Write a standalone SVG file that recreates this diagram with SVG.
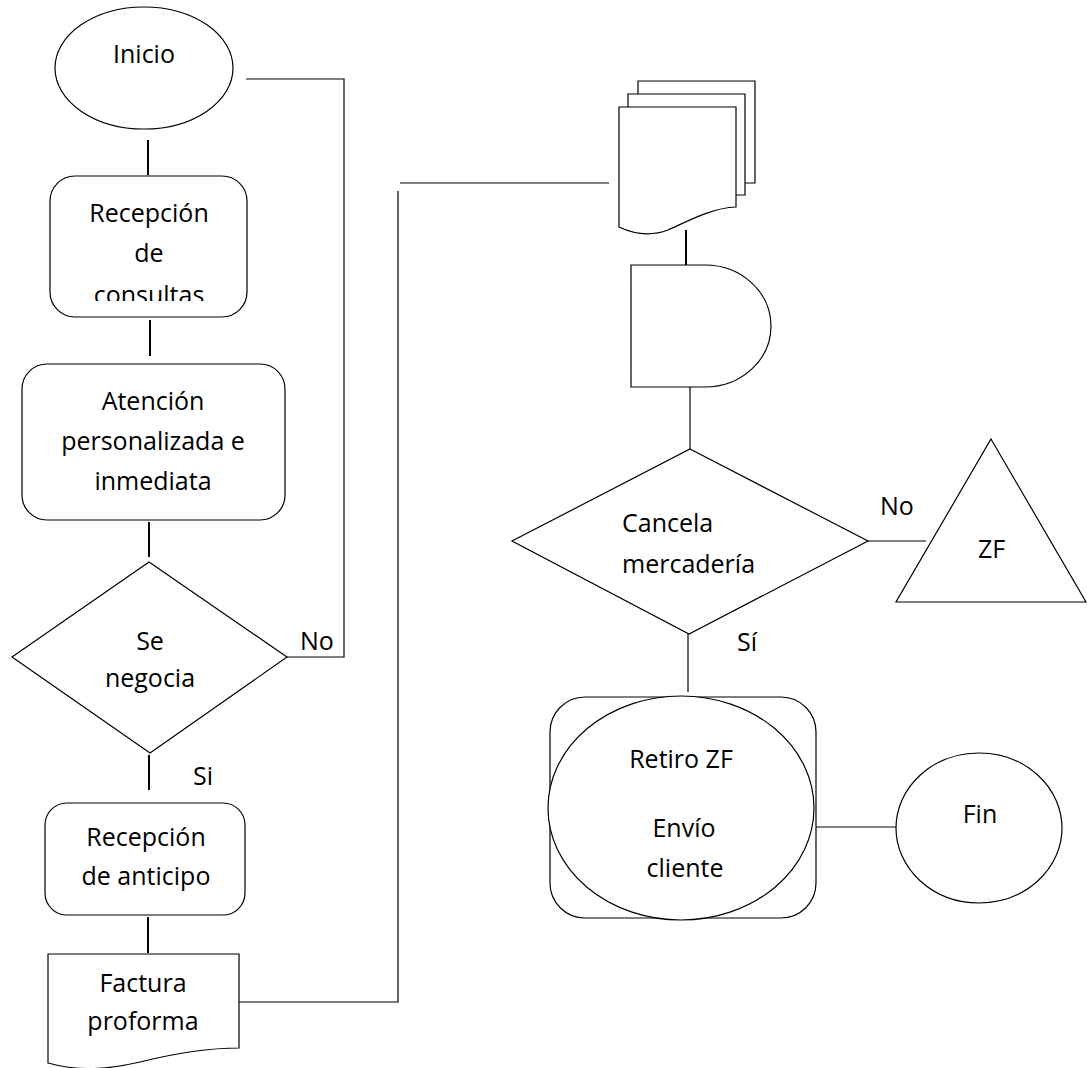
<svg xmlns="http://www.w3.org/2000/svg" width="1087" height="1068" viewBox="0 0 1087 1068">
<style>
.s{fill:#fff;stroke:#000;stroke-width:1.2}
.c{fill:none;stroke:#000;stroke-width:1.2}
.v{fill:none;stroke:#000;stroke-width:2}
text{font-family:"Open Sans","Liberation Sans",sans-serif;font-size:25px;fill:#000}
.m{text-anchor:middle}
</style>
<defs>
<clipPath id="clipCons"><rect x="50" y="176" width="197" height="125"/></clipPath>
</defs>
<rect width="1087" height="1068" fill="#fff"/>
<g id="connectors">
<line class="v" x1="148" y1="140" x2="148" y2="175"/>
<line class="v" x1="150" y1="320" x2="150" y2="356"/>
<line class="v" x1="149" y1="522" x2="149" y2="557"/>
<polyline class="c" points="287,657 344,657 344,79 246,79"/>
<line class="v" x1="149" y1="755" x2="149" y2="790"/>
<line class="v" x1="148" y1="917" x2="148" y2="953"/>
<polyline class="c" points="239,1002 398,1002 398,191"/>
<line class="c" x1="400" y1="183" x2="609" y2="183"/>
<line class="v" x1="686" y1="230" x2="686" y2="265"/>
<line class="c" x1="690" y1="387" x2="690" y2="449"/>
<line class="c" x1="868" y1="541" x2="926" y2="541"/>
<line class="c" x1="688" y1="634" x2="688" y2="692"/>
<line class="c" x1="814" y1="827" x2="896" y2="827"/>
<text x="300" y="650">No</text>
<text x="193" y="785">Si</text>
<text x="880" y="515">No</text>
<text x="737" y="651">Sí</text>
</g>
<g id="inicio">
<ellipse class="s" cx="144" cy="68" rx="89" ry="61"/>
<text class="m" x="144" y="63">Inicio</text>
</g>
<g id="recepcion-consultas">
<rect class="s" x="50" y="176" width="197" height="141" rx="25"/>
<text class="m" x="149" y="222">Recepción</text>
<text class="m" x="149" y="262">de</text>
<text class="m" x="149" y="304" clip-path="url(#clipCons)">consultas</text>
</g>
<g id="atencion">
<rect class="s" x="22" y="364" width="263" height="156" rx="25"/>
<text class="m" x="153" y="410">Atención</text>
<text class="m" x="153" y="450">personalizada e</text>
<text class="m" x="153" y="490">inmediata</text>
</g>
<g id="se-negocia">
<polygon class="s" points="149,562 287,657 150,753 12,657"/>
<text class="m" x="150" y="650">Se</text>
<text class="m" x="150" y="687">negocia</text>
</g>
<g id="recepcion-anticipo">
<rect class="s" x="45" y="803" width="200" height="112" rx="22"/>
<text class="m" x="146" y="846">Recepción</text>
<text class="m" x="146" y="885">de anticipo</text>
</g>
<g id="factura-proforma">
<path class="s" d="M48,954 H239 V1048 C210,1048 180,1052 140,1062 C110,1069 80,1072 48,1063 Z"/>
<text class="m" x="143" y="992">Factura</text>
<text class="m" x="143" y="1030">proforma</text>
</g>
<g id="multidocumento">
<path class="s" d="M638,94 V81 H755 V183 H745"/>
<path class="s" d="M628,107 V94 H745 V195 H736"/>
<path class="s" d="M619,107 H736 V207 C712,208 690,220 668,230 C652,236 636,235 619,227 Z"/>
</g>
<g id="demora">
<path class="s" d="M631,265 H705 A66,61 0 0 1 705,387 H631 Z"/>
</g>
<g id="cancela-mercaderia">
<polygon class="s" points="690,449 868,541 689,634 512,541"/>
<text x="622" y="532">Cancela</text>
<text x="622" y="573">mercadería</text>
</g>
<g id="zf">
<polygon class="s" points="991,439 1086,602 896,602"/>
<text x="978" y="558">ZF</text>
</g>
<g id="retiro-envio">
<rect class="s" x="550" y="697" width="266" height="221" rx="35"/>
<ellipse class="s" cx="681" cy="808" rx="133" ry="112"/>
<text class="m" x="681" y="768">Retiro ZF</text>
<text class="m" x="684" y="837">Envío</text>
<text class="m" x="685" y="877">cliente</text>
</g>
<g id="fin">
<ellipse class="s" cx="979" cy="828" rx="83" ry="75"/>
<text class="m" x="980" y="823">Fin</text>
</g>
</svg>
